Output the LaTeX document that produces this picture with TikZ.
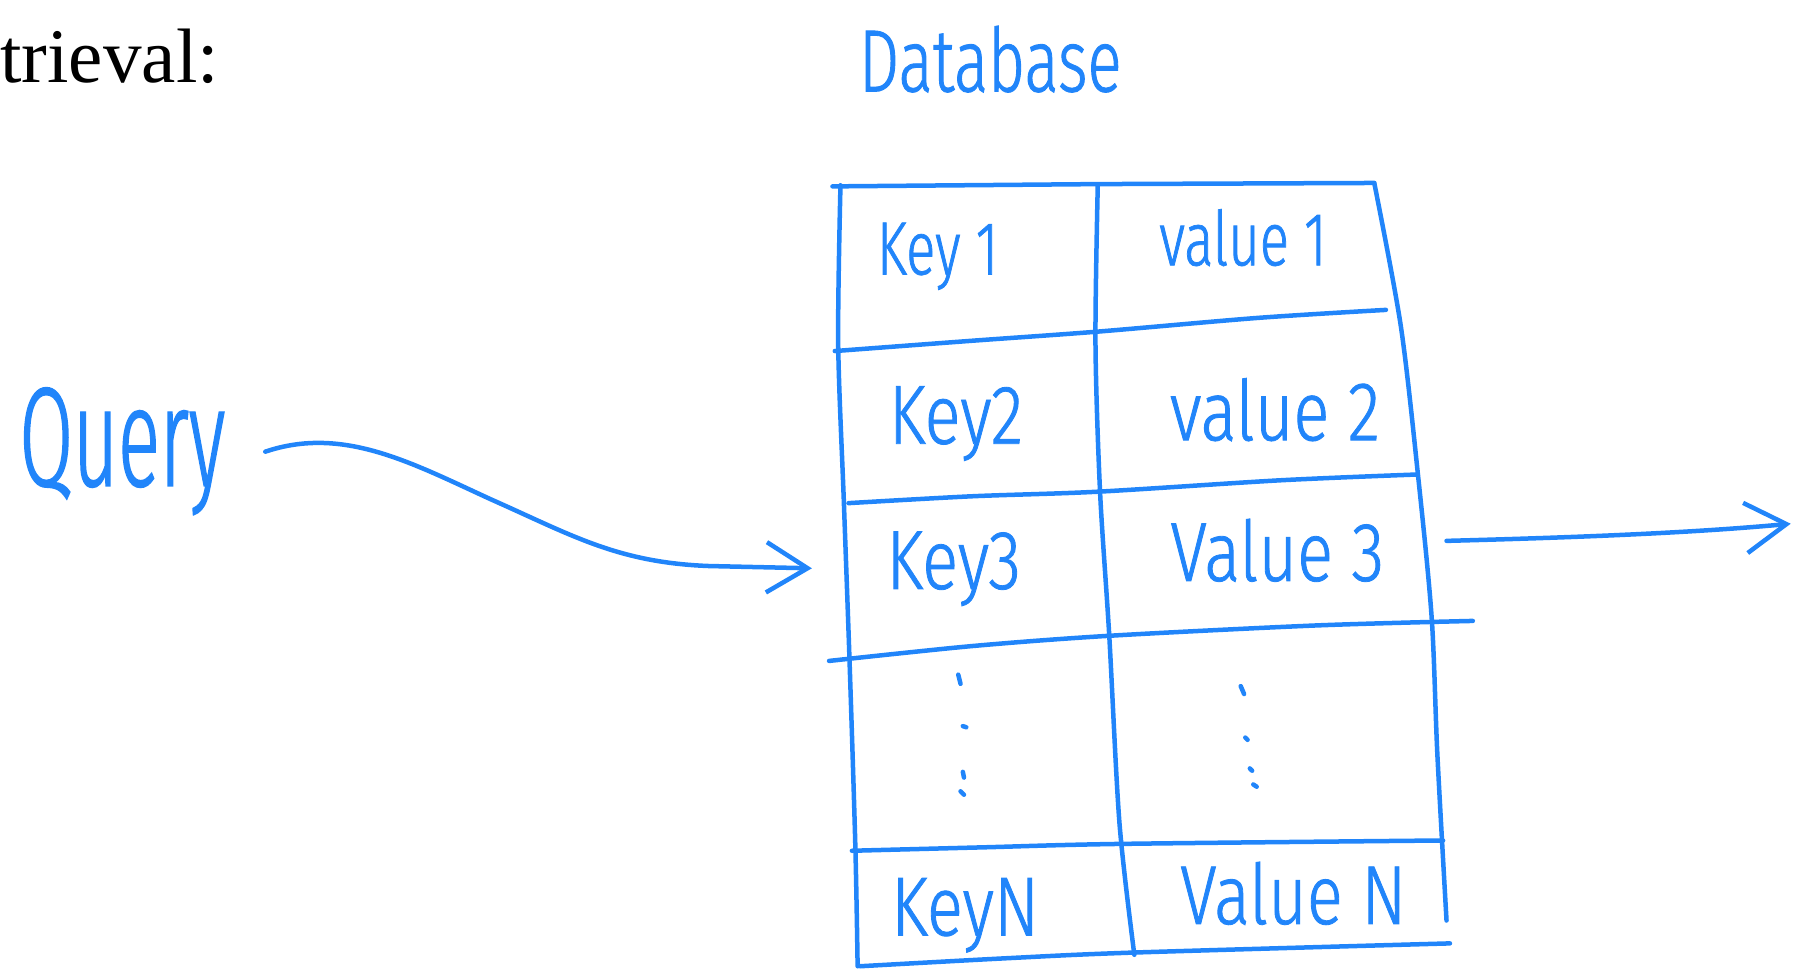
\documentclass[tikz,border=0pt]{standalone}
\usepackage{fontspec}
\setmainfont{Liberation Serif}
% narrow pen-like faces of one family
\newfontfamily\handfont[FakeStretch=0.72,FakeBold=1]{Fira Sans Light}
\newfontfamily\handwide[FakeStretch=0.8,FakeBold=1]{Fira Sans Light}
\newfontfamily\handtall[FakeStretch=0.55,FakeBold=1]{Fira Sans Light}
\usetikzlibrary{arrows.meta}
\definecolor{inkblue}{RGB}{33,133,250}
\tikzset{
  % --- pen strokes -----------------------------------------------------------
  pen/.style={draw=inkblue,line width=2.8pt,line cap=round,line join=round},
  inkarrow/.style={pen,-{Straight Barb[length=9mm,width=11mm]}},
  dotmark/.style={pen,line width=2.8pt},
  % --- handwritten labels ----------------------------------------------------
  hand/.style={text=inkblue,inner sep=0pt,anchor=base},
  celltext/.style={hand,font=\handfont\fontsize{47}{47}\selectfont},  % first row
  rowtext/.style={hand,font=\handwide\fontsize{52}{52}\selectfont},   % rows below
}

\begin{document}
\begin{tikzpicture}[x=0.25mm,y=-0.25mm]
  \useasboundingbox (0,0) rectangle (1568,848);

  % running text, cut at the left margin
  \node[anchor=base west,inner sep=0pt,font=\fontsize{48}{52}\selectfont]
    (head) at (0,72) {trieval:};

  \node[hand,font=\handfont\fontsize{55}{55}\selectfont] (db) at (866,80) {Database};
  \node[hand,font=\handtall\fontsize{88}{88}\selectfont] (query) at (107,425) {Query};

  % table frame
  \draw[pen] (728,163) -- (960,161) -- (1202,160);
  \draw[pen] plot[smooth] coordinates {(735,162) (733,300) (738,440) (743,580) (748,740) (750,845)};
  \draw[pen] plot[smooth] coordinates {(960,162) (958,300) (962,430) (970,555) (979,720) (992,835)};
  \draw[pen] plot[smooth] coordinates {(1202,161) (1225,285) (1240,415) (1252,540) (1257,660) (1265,805)};
  % row separators
  \draw[pen] plot[smooth] coordinates {(730,307) (850,298) (960,290) (1100,278) (1212,271)};
  \draw[pen] plot[smooth] coordinates {(742,440) (850,434) (960,430) (1120,420) (1238,415)};
  \draw[pen] plot[smooth] coordinates {(725,578) (850,565) (970,556) (1150,547) (1288,543)};
  \draw[pen] plot[smooth] coordinates {(745,744) (860,741) (980,738) (1262,735)};
  \draw[pen] plot[smooth] coordinates {(752,845) (880,838) (992,833) (1268,825)};

  % cells
  \node[celltext] (k1) at (820,240)  {Key 1};
  \node[celltext] (v1) at (1087,232) {value 1};
  \node[rowtext]  (k2) at (836,388)  {Key2};
  \node[rowtext]  (v2) at (1115,385) {value 2};
  \node[rowtext]  (k3) at (834,515)  {Key3};
  \node[rowtext]  (v3) at (1117,508) {Value 3};
  \node[rowtext]  (kN) at (844,818)  {KeyN};
  \node[rowtext]  (vN) at (1131,808) {Value N};

  % vertical dots between row 3 and row N
  \draw[dotmark] (838,590) -- (840,598);
  \draw[dotmark] (842,635) -- (845,636);
  \draw[dotmark] (842,675) -- (843,680);
  \draw[dotmark] (840,692) -- (843,695);
  \draw[dotmark] (1085,600) -- (1088,607);
  \draw[dotmark] (1089,645) -- (1091,647);
  \draw[dotmark] (1093,672) -- (1095,674);
  \draw[dotmark] (1096,686) -- (1099,688);

  % query goes in, value comes out
  \coordinate (qtail) at (232,395);
  \coordinate (qtip) at (710,497);
  \coordinate (vtail) at (1265,473);
  \coordinate (vtip) at (1566,458);
  \draw[inkarrow] (qtail) .. controls (300,372) and (360,405) .. (430,437)
                          .. controls (500,468) and (540,492) .. (620,495) -- (qtip);
  \draw[inkarrow] (vtail) .. controls (1380,470) and (1480,466) .. (vtip);
\end{tikzpicture}
\end{document}
